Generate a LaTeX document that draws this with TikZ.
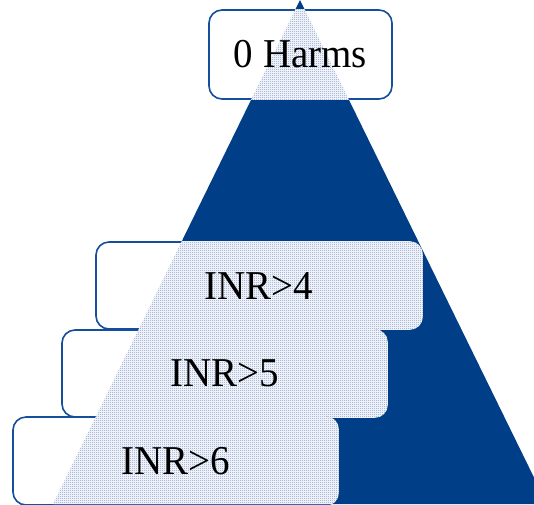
\documentclass[tikz,border=0pt]{standalone}
\usepackage{fontspec}
\setmainfont{Liberation Serif}[FakeStretch=0.95]
\usetikzlibrary{patterns.meta}
\definecolor{tri}{RGB}{0,62,135}
\definecolor{edge}{RGB}{22,78,158}
\definecolor{patc}{RGB}{125,150,196}
\pgfdeclarepattern{
  name=mycheck,
  type=uncolored,
  bottom left={\pgfpoint{0pt}{0pt}},
  top right={\pgfpoint{2pt}{2pt}},
  tile size={\pgfpoint{2pt}{2pt}},
  code={
    \pgfpathrectangle{\pgfpoint{0pt}{0pt}}{\pgfpoint{1pt}{1pt}}
    \pgfpathrectangle{\pgfpoint{1pt}{1pt}}{\pgfpoint{1pt}{1pt}}
    \pgfusepath{fill}
  }
}
\begin{document}
\begin{tikzpicture}[x=1pt,y=-1pt,
  box/.style={draw=edge, line width=1.6pt, fill=white, rounded corners=13pt, inner sep=0pt},
  lab/.style={font=\fontsize{41}{45}\selectfont, text=black, inner sep=0pt}]
\useasboundingbox (0,0) rectangle (534,504);
\clip (0,0) rectangle (534,504);
\fill[tri] (300,0) -- (547,504) -- (53,504) -- cycle;
% box 0
\node[box, minimum width=183pt, minimum height=89pt] (b0) at (300.5,54.5) {};
\begin{scope}
\clip[rounded corners=13pt] (b0.south west) rectangle (b0.north east);
\fill[white] (300,0) -- (547,504) -- (53,504) -- cycle;
\fill[pattern=mycheck, pattern color=patc] (300,0) -- (547,504) -- (53,504) -- cycle;
\end{scope}
% box 4
\node[box, minimum width=326pt, minimum height=87pt] (b4) at (259,285.5) {};
\begin{scope}
\clip[rounded corners=13pt] (b4.south west) rectangle (b4.north east);
\fill[white] (300,0) -- (547,504) -- (53,504) -- cycle;
\fill[pattern=mycheck, pattern color=patc] (300,0) -- (547,504) -- (53,504) -- cycle;
\end{scope}
% box 5
\node[box, minimum width=325pt, minimum height=87pt] (b5) at (224.5,373.5) {};
\begin{scope}
\clip[rounded corners=13pt] (b5.south west) rectangle (b5.north east);
\fill[white] (300,0) -- (547,504) -- (53,504) -- cycle;
\fill[pattern=mycheck, pattern color=patc] (300,0) -- (547,504) -- (53,504) -- cycle;
\end{scope}
% box 6
\node[box, minimum width=325pt, minimum height=88pt] (b6) at (175.5,461) {};
\begin{scope}
\clip[rounded corners=13pt] (b6.south west) rectangle (b6.north east);
\fill[white] (300,0) -- (547,504) -- (53,504) -- cycle;
\fill[pattern=mycheck, pattern color=patc] (300,0) -- (547,504) -- (53,504) -- cycle;
\end{scope}
\node[lab] (t0) at (b0.center) {0 Harms};
\node[lab] (t4) at (b4.center) {INR>4};
\node[lab] (t5) at (b5.center) {INR>5};
\node[lab] (t6) at (b6.center) {INR>6};
\end{tikzpicture}
\end{document}
